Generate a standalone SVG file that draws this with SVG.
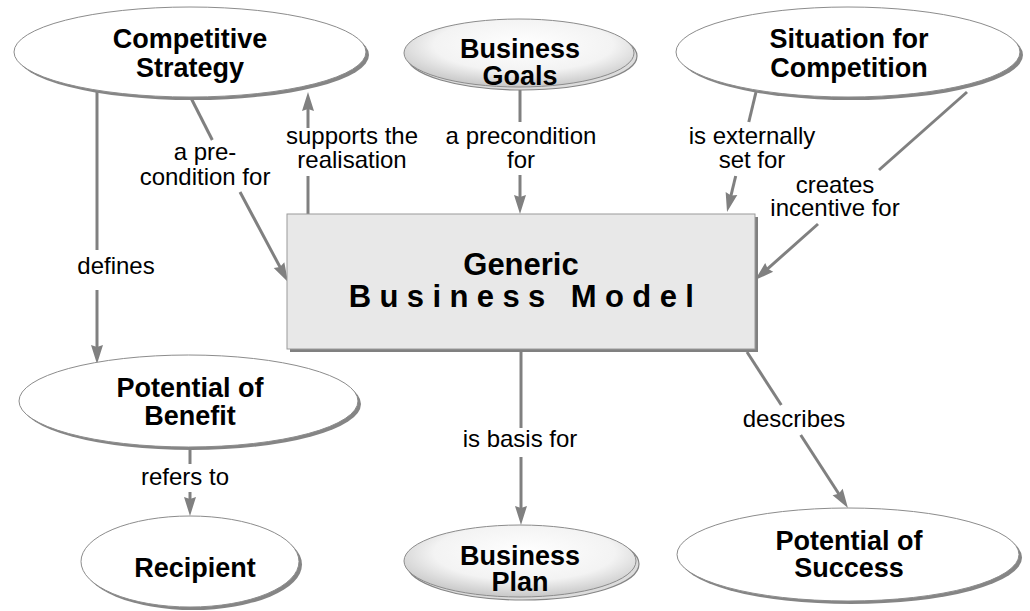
<svg xmlns="http://www.w3.org/2000/svg" width="1030" height="611" viewBox="0 0 1030 611">
<defs>
<radialGradient id="g" cx="52%" cy="38%" r="60%">
<stop offset="0" stop-color="#ffffff"/>
<stop offset="0.65" stop-color="#f3f3f3"/>
<stop offset="1" stop-color="#cbcbcb"/>
</radialGradient>
<marker id="ah" markerUnits="userSpaceOnUse" markerWidth="20" markerHeight="12" refX="11" refY="6" orient="auto" overflow="visible">
<path d="M0,0 L19,6 L0,12 L2,6 z" fill="#808080"/>
</marker>
<style>
.sh{fill:#858585;stroke:none}
.el{fill:#fff;stroke:#8c8c8c;stroke-width:1}
.elg{fill:url(#g);stroke:#8c8c8c;stroke-width:1}
.shg{fill:#dcdcdc;stroke:#858585;stroke-width:1.2}
.nt{font-family:"Liberation Sans",Arial,sans-serif;font-weight:bold;font-size:27px;fill:#000;text-anchor:middle}
.bt{font-family:"Liberation Sans",Arial,sans-serif;font-weight:bold;font-size:31px;fill:#000;text-anchor:middle}
.lt{font-family:"Liberation Sans",Arial,sans-serif;font-size:24px;fill:#000;text-anchor:middle}
.ln{stroke:#808080;stroke-width:3;fill:none}
.ar{stroke:#808080;stroke-width:3;fill:none;marker-end:url(#ah)}
</style>
</defs>
<rect width="1030" height="611" fill="#fff"/>

<g id="connectors">
<line class="ln" x1="97" y1="92" x2="97" y2="250"/>
<line class="ar" x1="97" y1="290" x2="97" y2="356"/>
<line class="ln" x1="191" y1="98" x2="212.3" y2="140"/>
<line class="ar" x1="240" y1="192" x2="284.2" y2="274.9"/>
<line class="ln" x1="308" y1="214" x2="308" y2="176"/>
<line class="ar" x1="308" y1="128" x2="308" y2="100"/>
<line class="ln" x1="520" y1="88" x2="520" y2="122"/>
<line class="ar" x1="520" y1="175" x2="520" y2="206"/>
<line class="ln" x1="756" y1="92" x2="748.8" y2="122"/>
<line class="ar" x1="735.7" y1="176" x2="728.9" y2="204.2"/>
<line class="ln" x1="967" y1="92" x2="879" y2="170"/>
<line class="ar" x1="818" y1="224" x2="761" y2="274.7"/>
<line class="ln" x1="190" y1="447" x2="190" y2="464"/>
<line class="ar" x1="190" y1="492" x2="190" y2="508"/>
<line class="ln" x1="521" y1="352" x2="521" y2="428"/>
<line class="ar" x1="521" y1="457" x2="521" y2="517"/>
<line class="ln" x1="747" y1="352" x2="781.3" y2="405"/>
<line class="ar" x1="800.7" y1="435" x2="843.6" y2="501.3"/>

<text class="lt" x="116" y="274">defines</text>
<text class="lt" x="205" y="160">a pre-</text>
<text class="lt" x="205" y="185">condition for</text>
<text class="lt" x="352" y="144">supports the</text>
<text class="lt" x="352" y="168">realisation</text>
<text class="lt" x="521" y="144">a precondition</text>
<text class="lt" x="521" y="168">for</text>
<text class="lt" x="752" y="144">is externally</text>
<text class="lt" x="752" y="168">set for</text>
<text class="lt" x="835" y="193">creates</text>
<text class="lt" x="835" y="216">incentive for</text>
<text class="lt" x="185" y="485">refers to</text>
<text class="lt" x="520" y="447">is basis for</text>
<text class="lt" x="794" y="427">describes</text>
</g>

<g id="competitive-strategy">
<ellipse class="sh" cx="193" cy="55" rx="176" ry="45"/>
<ellipse class="el" cx="190" cy="52" rx="176" ry="45"/>
<text class="nt" x="190" y="48">Competitive</text>
<text class="nt" x="190" y="77">Strategy</text>
</g>

<g id="business-goals">
<ellipse class="shg" cx="522" cy="56" rx="115" ry="34"/>
<ellipse class="elg" cx="519" cy="53" rx="115" ry="34"/>
<text class="nt" x="520" y="58">Business</text>
<text class="nt" x="520" y="85">Goals</text>
</g>

<g id="situation-for-competition">
<ellipse class="sh" cx="851" cy="55" rx="172" ry="45"/>
<ellipse class="el" cx="848" cy="52" rx="172" ry="45"/>
<text class="nt" x="849" y="48">Situation for</text>
<text class="nt" x="849" y="77">Competition</text>
</g>

<g id="generic-business-model">
<rect x="290" y="217" width="468" height="135" fill="#808080"/>
<rect x="287" y="214" width="468" height="135" fill="#e8e8e8" stroke="#9a9a9a" stroke-width="1"/>
<text class="bt" x="521" y="275">Generic</text>
<text class="bt" x="525.5" y="307" style="letter-spacing:8.4px">Business Model</text>
</g>

<g id="potential-of-benefit">
<ellipse class="sh" cx="191.5" cy="404" rx="169.5" ry="46"/>
<ellipse class="el" cx="188.5" cy="401" rx="169.5" ry="46"/>
<text class="nt" x="190" y="397">Potential of</text>
<text class="nt" x="190" y="425">Benefit</text>
</g>

<g id="recipient">
<ellipse class="sh" cx="193" cy="564.5" rx="109" ry="45.5"/>
<ellipse class="el" cx="190" cy="561.5" rx="109" ry="45.5"/>
<text class="nt" x="195" y="577">Recipient</text>
</g>

<g id="business-plan">
<ellipse class="shg" cx="523" cy="564" rx="116" ry="36"/>
<ellipse class="elg" cx="520" cy="561" rx="116" ry="36"/>
<text class="nt" x="520" y="565">Business</text>
<text class="nt" x="520" y="591">Plan</text>
</g>

<g id="potential-of-success">
<ellipse class="sh" cx="851" cy="557.5" rx="171" ry="46.5"/>
<ellipse class="el" cx="848" cy="554.5" rx="171" ry="46.5"/>
<text class="nt" x="849" y="550">Potential of</text>
<text class="nt" x="849" y="577">Success</text>
</g>
</svg>
